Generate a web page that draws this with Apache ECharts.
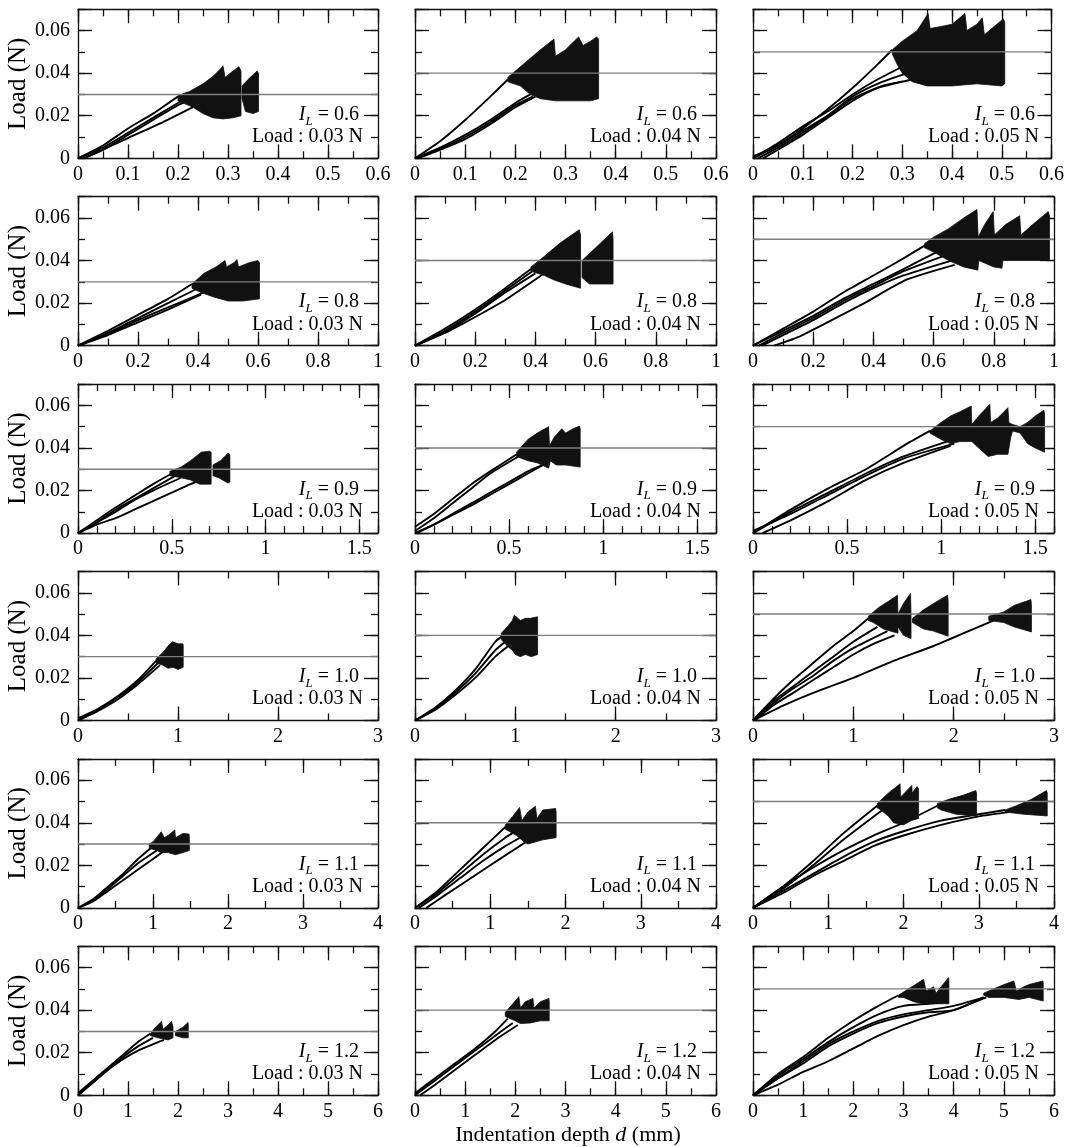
<!DOCTYPE html>
<html>
<head>
<meta charset="utf-8">
<script src="https://cdn.jsdelivr.net/npm/echarts@6/dist/echarts.min.js"></script>
<style>
html,body{margin:0;padding:0;background:#fff;}
#chart{width:1067px;height:1147px;}
</style>
</head>
<body>
<div id="chart"></div>
<script>
// ---------- axis settings (one row per liquidity index, one column per load) ----------
const liquidityIndex = ['0.6', '0.8', '0.9', '1.0', '1.1', '1.2'];
const loadLevels = [0.03, 0.04, 0.05];
const loadLabels = ['0.03', '0.04', '0.05'];
const depthMax = [0.6, 1, 1.6, 3, 4, 6];
const depthMajor = [0.1, 0.2, 0.5, 1, 1, 1];
const depthMinor = [0.05, 0.1, 0.1, 0.5, 0.5, 0.5];
const loadMax = 0.07, loadMajor = 0.02, loadMinor = 0.01;

// ---------- I_L = 0.6 ----------
const curves_06_3 = [
  [[0,0],[0.05,0.006],[0.1,0.014],[0.15,0.021],[0.2,0.029],[0.22,0.031]],
  [[0,0],[0.05,0.005],[0.1,0.012],[0.15,0.019],[0.2,0.026],[0.225,0.029]],
  [[0.01,0],[0.05,0.004],[0.1,0.011],[0.15,0.018],[0.2,0.025],[0.22,0.027]],
  [[0.017,0.0005],[0.1,0.0095],[0.17,0.017],[0.23,0.024]]
];
const upper_06_3 = [
  [[0.2,0.029],[0.22,0.031],[0.25,0.035],[0.27,0.0385],[0.285,0.042],[0.29,0.0435],[0.294,0.038],[0.31,0.041],[0.322,0.043],[0.326,0.041]],
  [[0.328,0.034],[0.34,0.037],[0.358,0.041],[0.361,0.040]]
];
const lower_06_3 = [
  [[0.2,0.027],[0.23,0.024],[0.25,0.021],[0.27,0.019],[0.29,0.0185],[0.31,0.019],[0.326,0.02]],
  [[0.328,0.028],[0.335,0.022],[0.35,0.021],[0.361,0.022]]
];

const curves_06_4 = [
  [[0,0],[0.05,0.008],[0.1,0.018],[0.15,0.029],[0.185,0.037]],
  [[0,0],[0.05,0.005],[0.1,0.011],[0.15,0.018],[0.2,0.026],[0.23,0.030]],
  [[0,0],[0.05,0.0045],[0.1,0.010],[0.15,0.017],[0.2,0.025],[0.235,0.029]],
  [[0.005,0],[0.05,0.004],[0.1,0.009],[0.15,0.016],[0.2,0.024],[0.24,0.029]]
];
const upper_06_4 = [
  [[0.185,0.038],[0.22,0.045],[0.25,0.051],[0.277,0.056],[0.28,0.048],[0.3,0.051],[0.326,0.057],[0.335,0.053],[0.35,0.055],[0.362,0.057],[0.366,0.056]]
];
const lower_06_4 = [
  [[0.185,0.036],[0.21,0.034],[0.23,0.030],[0.25,0.028],[0.28,0.027],[0.32,0.027],[0.35,0.027],[0.366,0.028]]
];

const curves_06_5 = [
  [[0,0],[0.05,0.006],[0.1,0.014],[0.15,0.023],[0.2,0.033],[0.25,0.044],[0.28,0.051]],
  [[0,0],[0.05,0.007],[0.1,0.015],[0.15,0.022],[0.2,0.030],[0.25,0.037],[0.3,0.043]],
  [[0.01,0],[0.05,0.005],[0.1,0.012],[0.15,0.020],[0.2,0.029],[0.25,0.035],[0.31,0.040]],
  [[0.02,0],[0.05,0.004],[0.1,0.011],[0.15,0.019],[0.2,0.027],[0.25,0.033],[0.32,0.037]],
  [[0,0.001],[0.05,0.006],[0.1,0.013],[0.15,0.020],[0.2,0.028],[0.26,0.034],[0.30,0.036]]
];
const upper_06_5 = [
  [[0.28,0.051],[0.3,0.055],[0.33,0.06],[0.352,0.068],[0.356,0.061],[0.38,0.062],[0.4,0.063],[0.426,0.068],[0.43,0.06],[0.45,0.063],[0.461,0.066],[0.465,0.058],[0.48,0.061],[0.503,0.0655],[0.506,0.064]]
];
const lower_06_5 = [
  [[0.28,0.049],[0.29,0.044],[0.3,0.040],[0.32,0.036],[0.35,0.034],[0.4,0.034],[0.45,0.035],[0.5,0.034],[0.506,0.035]]
];

// ---------- I_L = 0.8 ----------
const curves_08_3 = [
  [[0,0],[0.1,0.007],[0.2,0.0145],[0.3,0.022],[0.38,0.029]],
  [[0,0],[0.1,0.006],[0.2,0.013],[0.3,0.020],[0.40,0.027]],
  [[0,0],[0.1,0.0055],[0.2,0.012],[0.3,0.018],[0.42,0.025]],
  [[0,0],[0.1,0.005],[0.2,0.011],[0.3,0.017],[0.41,0.024]]
];
const upper_08_3 = [
  [[0.38,0.029],[0.42,0.034],[0.46,0.037],[0.49,0.040],[0.495,0.037],[0.52,0.039],[0.53,0.0405],[0.535,0.037],[0.57,0.039],[0.6,0.04],[0.605,0.039]]
];
const lower_08_3 = [
  [[0.38,0.027],[0.41,0.025],[0.45,0.023],[0.5,0.021],[0.55,0.021],[0.605,0.022]]
];

const curves_08_4 = [
  [[0,0],[0.1,0.008],[0.2,0.017],[0.3,0.027],[0.385,0.036]],
  [[0,0],[0.1,0.007],[0.2,0.016],[0.3,0.026],[0.39,0.035]],
  [[0,0],[0.1,0.0065],[0.2,0.015],[0.3,0.025],[0.40,0.034]],
  [[0,0],[0.1,0.006],[0.2,0.0135],[0.3,0.0215],[0.43,0.034]]
];
const upper_08_4 = [
  [[0.385,0.037],[0.43,0.042],[0.48,0.048],[0.52,0.052],[0.546,0.0545],[0.55,0.052]],
  [[0.555,0.040],[0.6,0.046],[0.656,0.0535],[0.658,0.05]]
];
const lower_08_4 = [
  [[0.385,0.035],[0.43,0.033],[0.46,0.031],[0.5,0.029],[0.55,0.027]],
  [[0.555,0.032],[0.58,0.029],[0.62,0.029],[0.658,0.029]]
];

const curves_08_5 = [
  [[0,0],[0.1,0.008],[0.2,0.016],[0.3,0.025],[0.4,0.033],[0.5,0.041],[0.57,0.047]],
  [[0,0],[0.1,0.007],[0.2,0.014],[0.3,0.022],[0.4,0.029],[0.5,0.036],[0.61,0.044]],
  [[0.02,0],[0.1,0.006],[0.2,0.013],[0.3,0.021],[0.4,0.028],[0.5,0.035],[0.63,0.042]],
  [[0.03,0],[0.1,0.005],[0.2,0.012],[0.3,0.020],[0.4,0.027],[0.5,0.033],[0.66,0.040]],
  [[0.07,0],[0.15,0.004],[0.22,0.009],[0.37,0.020],[0.51,0.031],[0.67,0.038]]
];
const upper_08_5 = [
  [[0.57,0.048],[0.6,0.051],[0.65,0.055],[0.7,0.060],[0.744,0.064],[0.748,0.051],[0.77,0.057],[0.798,0.063],[0.802,0.052],[0.84,0.057],[0.886,0.061],[0.89,0.052],[0.93,0.057],[0.981,0.063],[0.985,0.061]]
];
const lower_08_5 = [
  [[0.57,0.046],[0.6,0.044],[0.65,0.040],[0.7,0.037],[0.747,0.0355],[0.75,0.040],[0.8,0.037],[0.827,0.0364],[0.83,0.040],[0.9,0.040],[0.985,0.040]]
];

// ---------- I_L = 0.9 ----------
const curves_09_3 = [
  [[0,0],[0.1,0.006],[0.2,0.012],[0.3,0.0175],[0.4,0.023],[0.5,0.028]],
  [[0,0],[0.1,0.005],[0.2,0.011],[0.3,0.016],[0.4,0.021],[0.52,0.027]],
  [[0,0],[0.1,0.005],[0.2,0.010],[0.3,0.0155],[0.4,0.020],[0.55,0.026]],
  [[0,0],[0.1,0.004],[0.2,0.007],[0.3,0.011],[0.4,0.015],[0.5,0.019],[0.6,0.023],[0.69,0.026]]
];
const upper_09_3 = [
  [[0.49,0.029],[0.55,0.031],[0.6,0.034],[0.657,0.038],[0.7,0.0385],[0.71,0.038]],
  [[0.72,0.032],[0.76,0.034],[0.8,0.0375],[0.81,0.037]]
];
const lower_09_3 = [
  [[0.49,0.027],[0.55,0.026],[0.6,0.025],[0.65,0.023],[0.71,0.023]],
  [[0.72,0.027],[0.75,0.026],[0.8,0.0235],[0.81,0.024]]
];

const curves_09_4 = [
  [[0,0.003],[0.1,0.009],[0.2,0.016],[0.3,0.023],[0.4,0.029],[0.54,0.037]],
  [[0,0.001],[0.1,0.007],[0.2,0.014],[0.3,0.021],[0.4,0.028],[0.55,0.036]],
  [[0,0],[0.1,0.004],[0.2,0.009],[0.3,0.014],[0.4,0.019],[0.5,0.024],[0.6,0.029],[0.68,0.032]],
  [[0.01,0],[0.1,0.004],[0.2,0.0085],[0.3,0.013],[0.4,0.018],[0.5,0.023],[0.6,0.028],[0.7,0.033]]
];
const upper_09_4 = [
  [[0.54,0.038],[0.6,0.044],[0.65,0.047],[0.71,0.050],[0.715,0.041],[0.74,0.045],[0.78,0.049],[0.8,0.047],[0.84,0.049],[0.875,0.0503],[0.878,0.049]]
];
const lower_09_4 = [
  [[0.54,0.036],[0.6,0.034],[0.65,0.033],[0.71,0.0305],[0.72,0.034],[0.75,0.032],[0.8,0.032],[0.878,0.031]]
];

const curves_09_5 = [
  [[0,0],[0.2,0.011],[0.4,0.021],[0.6,0.030],[0.8,0.041],[0.94,0.048]],
  [[0,0],[0.2,0.010],[0.4,0.019],[0.6,0.028],[0.8,0.036],[1.03,0.043]],
  [[0,0.001],[0.2,0.009],[0.4,0.018],[0.6,0.027],[0.8,0.035],[1.07,0.042]],
  [[0.05,0],[0.2,0.006],[0.4,0.015],[0.6,0.025],[0.8,0.033],[1.05,0.041]]
];
const upper_09_5 = [
  [[0.94,0.048],[1.0,0.052],[1.05,0.055],[1.1,0.057],[1.16,0.0597],[1.163,0.051],[1.2,0.055],[1.259,0.0605],[1.263,0.052],[1.3,0.054],[1.355,0.0589],[1.36,0.052],[1.38,0.051],[1.42,0.050],[1.46,0.052],[1.5,0.055],[1.546,0.0577],[1.55,0.056]]
];
const lower_09_5 = [
  [[0.94,0.047],[1.0,0.044],[1.05,0.042],[1.1,0.043],[1.163,0.043],[1.2,0.040],[1.25,0.036],[1.3,0.037],[1.355,0.037],[1.37,0.045],[1.38,0.048],[1.42,0.047],[1.46,0.042],[1.5,0.040],[1.55,0.038]]
];

// ---------- I_L = 1.0 ----------
const curves_10_3 = [
  [[0,0],[0.2,0.005],[0.4,0.011],[0.6,0.018],[0.8,0.027]],
  [[0,0],[0.2,0.0045],[0.4,0.010],[0.6,0.017],[0.82,0.026]],
  [[0,0.001],[0.2,0.0055],[0.4,0.0115],[0.6,0.019],[0.78,0.028]]
];
const upper_10_3 = [
  [[0.78,0.029],[0.85,0.032],[0.9,0.035],[0.945,0.037],[1.0,0.036],[1.05,0.036],[1.052,0.035]]
];
const lower_10_3 = [
  [[0.78,0.027],[0.85,0.026],[0.9,0.0245],[0.95,0.025],[1.0,0.024],[1.052,0.025]]
];

const curves_10_4 = [
  [[0,0],[0.2,0.006],[0.4,0.014],[0.6,0.024],[0.8,0.037],[0.88,0.040]],
  [[0,0],[0.2,0.0055],[0.4,0.013],[0.6,0.022],[0.8,0.033],[0.9,0.037]],
  [[0,0],[0.2,0.005],[0.4,0.012],[0.6,0.020],[0.8,0.030],[0.93,0.035]]
];
const upper_10_4 = [
  [[0.86,0.041],[0.92,0.044],[0.97,0.047],[0.99,0.0495],[1.05,0.047],[1.1,0.048],[1.15,0.048],[1.22,0.0487],[1.222,0.047]]
];
const lower_10_4 = [
  [[0.86,0.038],[0.92,0.035],[0.97,0.033],[1.0,0.031],[1.05,0.030],[1.1,0.031],[1.16,0.030],[1.222,0.031]]
];

const curves_10_5 = [
  [[0,0],[0.2,0.010],[0.4,0.019],[0.6,0.027],[0.8,0.035],[1.0,0.042],[1.15,0.048]],
  [[0,0],[0.2,0.009],[0.4,0.016],[0.6,0.023],[0.8,0.030],[1.0,0.037],[1.24,0.044]],
  [[0,0],[0.2,0.008],[0.4,0.015],[0.6,0.021],[0.8,0.028],[1.0,0.034],[1.34,0.042]],
  [[0.02,0],[0.2,0.007],[0.4,0.013],[0.6,0.019],[0.8,0.025],[1.0,0.031],[1.2,0.036],[1.41,0.040]],
  [[0,0],[0.3,0.007],[0.6,0.013],[1.0,0.020],[1.4,0.028],[1.8,0.035],[2.1,0.041],[2.4,0.047]]
];
const upper_10_5 = [
  [[1.15,0.049],[1.25,0.053],[1.35,0.056],[1.44,0.0589],[1.445,0.05]],
  [[1.445,0.05],[1.5,0.055],[1.57,0.0597],[1.575,0.05]],
  [[1.59,0.048],[1.7,0.052],[1.8,0.055],[1.94,0.0589],[1.945,0.056]],
  [[2.35,0.049],[2.5,0.051],[2.6,0.054],[2.77,0.0568],[2.775,0.054]]
];
const lower_10_5 = [
  [[1.15,0.047],[1.2,0.046],[1.3,0.043],[1.445,0.041]],
  [[1.445,0.044],[1.5,0.040],[1.575,0.0385]],
  [[1.59,0.046],[1.7,0.043],[1.8,0.042],[1.945,0.0396]],
  [[2.35,0.047],[2.5,0.046],[2.6,0.044],[2.775,0.0416]]
];

// ---------- I_L = 1.1 ----------
const curves_11_3 = [
  [[0,0],[0.2,0.004],[0.4,0.010],[0.6,0.016],[0.8,0.023],[1.0,0.029]],
  [[0,0],[0.2,0.0035],[0.4,0.009],[0.6,0.015],[0.8,0.021],[1.05,0.027]],
  [[0,0],[0.2,0.003],[0.4,0.008],[0.6,0.013],[0.8,0.018],[1.0,0.023],[1.12,0.026]]
];
const upper_11_3 = [
  [[0.95,0.030],[1.0,0.031],[1.11,0.0358],[1.15,0.033],[1.2,0.034],[1.29,0.0366],[1.3,0.033],[1.4,0.035],[1.48,0.0347],[1.485,0.033]]
];
const lower_11_3 = [
  [[0.95,0.028],[1.05,0.027],[1.1,0.026],[1.2,0.026],[1.3,0.025],[1.4,0.026],[1.485,0.027]]
];

const curves_11_4 = [
  [[0,0],[0.3,0.008],[0.6,0.018],[0.9,0.028],[1.2,0.038]],
  [[0,0],[0.3,0.007],[0.6,0.016],[0.9,0.025],[1.2,0.033],[1.38,0.037]],
  [[0.05,0],[0.3,0.006],[0.6,0.014],[0.9,0.022],[1.2,0.029],[1.45,0.034]],
  [[0.15,0],[0.4,0.006],[0.7,0.013],[1.0,0.020],[1.3,0.027],[1.52,0.032]]
];
const upper_11_4 = [
  [[1.2,0.039],[1.3,0.043],[1.39,0.0472],[1.42,0.041],[1.5,0.045],[1.6,0.0478],[1.62,0.042],[1.7,0.046],[1.87,0.0467],[1.875,0.045]]
];
const lower_11_4 = [
  [[1.2,0.037],[1.25,0.036],[1.35,0.034],[1.45,0.031],[1.5,0.030],[1.6,0.031],[1.7,0.032],[1.875,0.033]]
];

const curves_11_5 = [
  [[0,0],[0.4,0.010],[0.8,0.022],[1.2,0.035],[1.65,0.048]],
  [[0,0],[0.4,0.009],[0.8,0.020],[1.2,0.032],[1.72,0.046]],
  [[0,0],[0.4,0.010],[0.8,0.019],[1.2,0.027],[1.6,0.034],[2.0,0.040],[2.45,0.048]],
  [[0,0],[0.4,0.008],[0.8,0.016],[1.2,0.024],[1.6,0.031],[2.0,0.036],[2.5,0.041],[3.0,0.044],[3.35,0.046]],
  [[0,0],[0.4,0.007],[0.8,0.015],[1.2,0.022],[1.6,0.029],[2.0,0.034],[2.5,0.039],[3.0,0.043],[3.4,0.045]]
];
const upper_11_5 = [
  [[1.65,0.049],[1.8,0.054],[1.955,0.0583],[1.96,0.052],[2.11,0.0575],[2.115,0.054],[2.18,0.057],[2.2,0.056]],
  [[2.45,0.049],[2.6,0.051],[2.8,0.053],[2.96,0.0551],[2.97,0.054]],
  [[3.35,0.046],[3.5,0.048],[3.7,0.051],[3.9,0.0551],[3.91,0.054]]
];
const lower_11_5 = [
  [[1.65,0.047],[1.7,0.046],[1.8,0.043],[1.87,0.040],[2.0,0.039],[2.1,0.041],[2.2,0.042]],
  [[2.45,0.047],[2.5,0.046],[2.7,0.044],[2.97,0.0432]],
  [[3.35,0.045],[3.6,0.044],[3.91,0.0432]]
];

// ---------- I_L = 1.2 ----------
const curves_12_3 = [
  [[0,0.001],[0.3,0.007],[0.6,0.013],[0.9,0.019],[1.2,0.025],[1.45,0.029]],
  [[0,0],[0.3,0.006],[0.6,0.012],[0.9,0.018],[1.2,0.023],[1.5,0.027]],
  [[0,0],[0.3,0.006],[0.6,0.012],[0.9,0.017],[1.2,0.021],[1.5,0.024],[1.72,0.026]]
];
const upper_12_3 = [
  [[1.45,0.029],[1.55,0.032],[1.67,0.0347],[1.7,0.031],[1.8,0.033],[1.87,0.0347],[1.9,0.032]],
  [[1.95,0.030],[2.1,0.032],[2.2,0.0342],[2.205,0.033]]
];
const lower_12_3 = [
  [[1.45,0.028],[1.6,0.027],[1.8,0.026],[1.9,0.027]],
  [[1.95,0.028],[2.1,0.027],[2.205,0.027]]
];

const curves_12_4 = [
  [[0,0.001],[0.4,0.008],[0.8,0.015],[1.2,0.022],[1.6,0.030],[1.85,0.036]],
  [[0,0],[0.4,0.007],[0.8,0.014],[1.2,0.021],[1.6,0.028],[1.95,0.034]],
  [[0.1,0],[0.4,0.005],[0.8,0.012],[1.2,0.019],[1.6,0.026],[2.05,0.033]]
];
const upper_12_4 = [
  [[1.8,0.039],[1.95,0.043],[2.07,0.0463],[2.1,0.041],[2.2,0.044],[2.35,0.0455],[2.37,0.041],[2.5,0.044],[2.67,0.0455],[2.675,0.044]]
];
const lower_12_4 = [
  [[1.8,0.037],[1.9,0.036],[2.0,0.035],[2.1,0.0337],[2.3,0.034],[2.5,0.035],[2.675,0.035]]
];

const curves_12_5 = [
  [[0,0],[0.5,0.010],[1.0,0.018],[1.5,0.027],[2.0,0.035],[2.5,0.042],[2.9,0.047]],
  [[0,0],[0.5,0.009],[1.0,0.017],[1.5,0.025],[2.0,0.032],[2.5,0.038],[3.0,0.042],[3.5,0.043],[3.9,0.044]],
  [[0,0],[0.5,0.008],[1.0,0.016],[1.5,0.024],[2.0,0.030],[2.5,0.035],[3.0,0.038],[3.5,0.040],[4.0,0.042],[4.6,0.046]],
  [[0,0],[0.5,0.008],[1.0,0.015],[1.5,0.023],[2.0,0.029],[2.5,0.034],[3.0,0.037],[3.5,0.039],[4.0,0.040],[4.6,0.046]],
  [[0,0],[0.5,0.005],[1.0,0.011],[1.5,0.016],[2.0,0.022],[2.5,0.028],[3.0,0.033],[3.5,0.037],[4.0,0.040],[4.65,0.046]]
];
const upper_12_5 = [
  [[2.9,0.047],[3.1,0.050],[3.3,0.053],[3.4,0.0545],[3.45,0.049],[3.6,0.051],[3.65,0.048],[3.75,0.051],[3.9,0.0553],[3.905,0.053]],
  [[4.6,0.048],[4.8,0.050],[5.0,0.052],[5.2,0.0537],[5.25,0.049],[5.4,0.051],[5.5,0.052],[5.78,0.0537],[5.785,0.052]]
];
const lower_12_5 = [
  [[2.9,0.046],[3.0,0.046],[3.2,0.044],[3.4,0.043],[3.6,0.043],[3.905,0.043]],
  [[4.6,0.047],[4.7,0.046],[5.0,0.046],[5.3,0.045],[5.5,0.046],[5.785,0.0443]]
];

// rows follow liquidityIndex, columns follow loadLevels
const panelData = [
  [[curves_06_3, upper_06_3, lower_06_3], [curves_06_4, upper_06_4, lower_06_4], [curves_06_5, upper_06_5, lower_06_5]],
  [[curves_08_3, upper_08_3, lower_08_3], [curves_08_4, upper_08_4, lower_08_4], [curves_08_5, upper_08_5, lower_08_5]],
  [[curves_09_3, upper_09_3, lower_09_3], [curves_09_4, upper_09_4, lower_09_4], [curves_09_5, upper_09_5, lower_09_5]],
  [[curves_10_3, upper_10_3, lower_10_3], [curves_10_4, upper_10_4, lower_10_4], [curves_10_5, upper_10_5, lower_10_5]],
  [[curves_11_3, upper_11_3, lower_11_3], [curves_11_4, upper_11_4, lower_11_4], [curves_11_5, upper_11_5, lower_11_5]],
  [[curves_12_3, upper_12_3, lower_12_3], [curves_12_4, upper_12_4, lower_12_4], [curves_12_5, upper_12_5, lower_12_5]]
];

// ---------- layout ----------
const FONT = "'Liberation Serif', 'Times New Roman', serif";
const colLeft = [78, 415, 753];
const colWidth = [300, 301, 301];
const rowTop0 = 9.3, rowStep = 187.4, panelHeight = 149;
const majorLen = 14, minorLen = 7;
const frameStyle = {color: '#111', width: 1.3};

function onMultiple(v, step) {
  const k = v / step;
  return Math.abs(k - Math.round(k)) < 1e-6;
}
function fmt(v) { return String(+v.toFixed(4)); }

const grid = [], xAxis = [], yAxis = [], series = [], graphic = [];

for (let r = 0; r < liquidityIndex.length; r++) {
  for (let c = 0; c < loadLevels.length; c++) {
    const g = grid.length;
    const left = colLeft[c], top = rowTop0 + r * rowStep;
    const width = colWidth[c], height = panelHeight;
    grid.push({left: left, top: top, width: width, height: height, show: false});

    // x axes: bottom major (labels), bottom minor, top major, top minor
    const xBase = {type: 'value', gridIndex: g, min: 0, max: depthMax[r], splitLine: {show: false}};
    [['bottom', true], ['bottom', false], ['top', true], ['top', false]].forEach(([pos, major]) => {
      xAxis.push(Object.assign({}, xBase, {
        position: pos,
        interval: major ? depthMajor[r] : depthMinor[r],
        axisLine: {show: major, onZero: false, lineStyle: frameStyle},
        axisTick: {show: true, inside: true, length: major ? majorLen : minorLen, lineStyle: frameStyle},
        axisLabel: {
          show: major && pos === 'bottom',
          margin: 6,
          fontFamily: FONT, fontSize: 20, color: '#000',
          formatter: (v) => onMultiple(v, depthMajor[r]) ? fmt(v) : ''
        }
      }));
    });

    // y axes: left major (labels on first column), left minor, right major, right minor
    const yBase = {type: 'value', gridIndex: g, min: 0, max: loadMax, splitLine: {show: false}};
    [['left', true], ['left', false], ['right', true], ['right', false]].forEach(([pos, major]) => {
      const ax = Object.assign({}, yBase, {
        position: pos,
        interval: major ? loadMajor : loadMinor,
        axisLine: {show: major, onZero: false, lineStyle: frameStyle},
        axisTick: {show: true, inside: true, length: major ? majorLen : minorLen, lineStyle: frameStyle},
        axisLabel: {
          show: major && pos === 'left' && c === 0,
          margin: 8,
          fontFamily: FONT, fontSize: 20, color: '#000',
          formatter: (v) => onMultiple(v, loadMajor) ? fmt(v) : ''
        }
      });
      if (major && pos === 'left' && c === 0) {
        ax.name = 'Load (N)';
        ax.nameLocation = 'middle';
        ax.nameGap = 46;
        ax.nameRotate = 90;
        ax.nameTextStyle = {fontFamily: FONT, fontSize: 25, color: '#000'};
      }
      yAxis.push(ax);
    });

    const xi = 4 * g, yi = 4 * g;
    const [curves, upper, lower] = panelData[r][c];

    // loading curves
    curves.forEach((pts) => {
      series.push({
        type: 'line', xAxisIndex: xi, yAxisIndex: yi, data: pts,
        showSymbol: false, smooth: 0.2, silent: true,
        lineStyle: {color: '#000', width: 1.9}, z: 2
      });
    });

    // oscillation bands (upper and lower envelopes)
    series.push({
      type: 'custom', xAxisIndex: xi, yAxisIndex: yi, silent: true, z: 3,
      data: upper.map((p, i) => [p[0][0], p[0][1], i]),
      encode: {x: 0, y: 1},
      renderItem: (params, api) => {
        const i = api.value(2);
        const pts = upper[i].map((p) => api.coord(p))
          .concat(lower[i].slice().reverse().map((p) => api.coord(p)));
        return {type: 'polygon', shape: {points: pts},
          style: {fill: '#111', stroke: '#111', lineWidth: 0.8}};
      }
    });

    // target load reference line
    series.push({
      type: 'line', xAxisIndex: xi, yAxisIndex: yi, silent: true, z: 4,
      data: [[0, loadLevels[c]], [depthMax[r], loadLevels[c]]],
      showSymbol: false, lineStyle: {color: '#7d7d7d', width: 1.4}
    });

    // panel annotation
    const yAt = (v) => top + height * (1 - v / loadMax);
    graphic.push({
      type: 'text', x: left + width - 19, y: yAt(0.02) - 1, silent: true,
      style: {
        text: '{it|I}{sub|L}{n| = ' + liquidityIndex[r] + '}',
        align: 'right', verticalAlign: 'middle',
        rich: {
          it: {fontFamily: FONT, fontSize: 20, fontStyle: 'italic', fill: '#000'},
          sub: {fontFamily: FONT, fontSize: 13, fontStyle: 'italic', fill: '#000', padding: [13, 0, 0, 0]},
          n: {fontFamily: FONT, fontSize: 20, fill: '#000'}
        }
      }
    });
    graphic.push({
      type: 'text', x: left + width - 15, y: yAt(0.01), silent: true,
      style: {
        text: 'Load : ' + loadLabels[c] + ' N',
        align: 'right', verticalAlign: 'middle',
        fontFamily: FONT, fontSize: 20, fill: '#000'
      }
    });
  }
}

// shared horizontal axis title
graphic.push({
  type: 'text', x: 568, y: 1135, silent: true,
  style: {
    text: '{n|Indentation depth }{it|d}{n| (mm)}',
    align: 'center', verticalAlign: 'middle',
    rich: {
      n: {fontFamily: FONT, fontSize: 22, fill: '#000'},
      it: {fontFamily: FONT, fontSize: 22, fontStyle: 'italic', fill: '#000'}
    }
  }
});

const chart = echarts.init(document.getElementById('chart'), null, {renderer: 'canvas'});
chart.setOption({
  animation: false,
  backgroundColor: '#fff',
  grid: grid, xAxis: xAxis, yAxis: yAxis, series: series, graphic: graphic
});
</script>
</body>
</html>
